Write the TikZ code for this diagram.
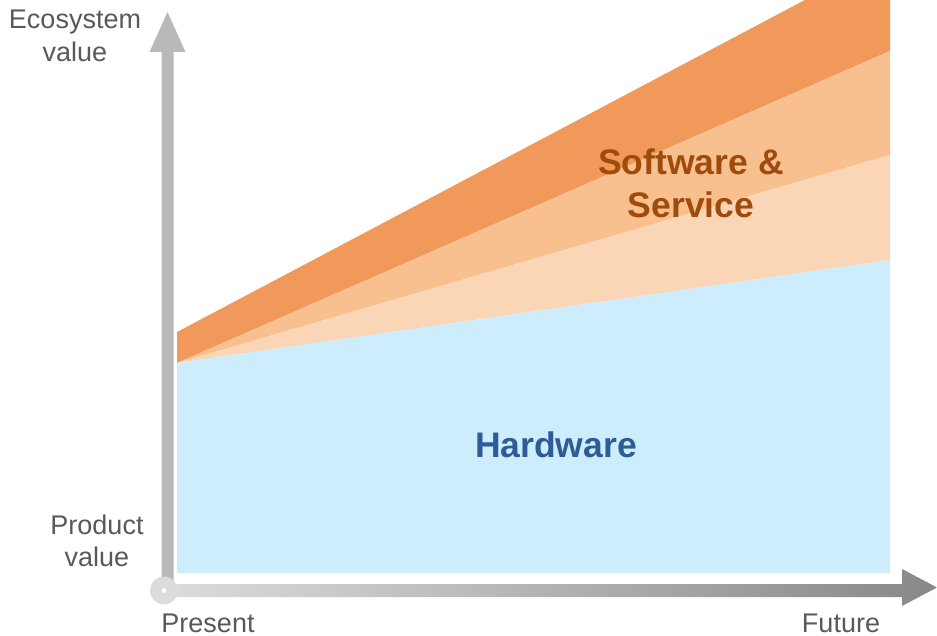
\documentclass[tikz,border=0pt]{standalone}
\usepackage{fontspec}
\setmainfont{Liberation Sans}
\usepackage{tikz}
\definecolor{darkor}{HTML}{F0995A}
\definecolor{midor}{HTML}{F8BF8F}
\definecolor{lightor}{HTML}{FBD6B6}
\definecolor{hwblue}{HTML}{CDECFC}
\definecolor{swtext}{HTML}{9E4B0C}
\definecolor{hwtext}{HTML}{2F5B96}
\definecolor{labgray}{HTML}{595959}
\definecolor{axisv}{HTML}{B9B9B9}
\definecolor{axisl}{HTML}{DCDCDC}
\definecolor{axisr}{HTML}{888888}
\tikzstyle{axislabel}=[text=labgray,align=center,inner sep=0pt,
font=\fontsize{27}{32.5}\selectfont]
\tikzstyle{swlabel}=[text=swtext,align=center,inner sep=0pt,
font=\fontsize{35.5}{43}\selectfont\bfseries]
\tikzstyle{hwlabel}=[text=hwtext,inner sep=0pt,
font=\fontsize{35.5}{43}\selectfont\bfseries]
\usetikzlibrary{shapes}

\begin{document}
\begin{tikzpicture}[x=1pt,y=-1pt]
            \useasboundingbox (0,0) rectangle (937,636);

            % LAYERS PART

            \coordinate (b0) at (177,573);
            \coordinate (b1) at (890,573);
            \coordinate (hw0) at (177,363);
            \coordinate (hw1) at (890,260);
            \coordinate (lt1) at (890,155);
            \coordinate (md1) at (890,51);
            \coordinate (dk0) at (177,332);
            \coordinate (dk1) at (890,-45);

            \begin{scope}
            \clip (0,0) rectangle (937,636);
            \fill[darkor] (hw0) -- (dk0) -- (dk1) -- (md1) -- cycle;
            \fill[midor] (hw0) -- (md1) -- (lt1) -- cycle;
            \fill[lightor] (hw0) -- (lt1) -- (hw1) -- cycle;
            \fill[hwblue] (b0) -- (hw0) -- (hw1) -- (b1) -- cycle;
            \end{scope}

            % AXES PART

            \coordinate (origin) at (164,590.5);
            \coordinate (ytip) at (167.5,12);
            \coordinate (xtip) at (937,587.5);

            \fill[axisv] (161.5,590) -- (161.5,52) -- (149.5,52) -- (ytip)
                -- (185.5,52) -- (173.5,52) -- (173.5,590) -- cycle;
            \shade[left color=axisl,right color=axisr] (164,584) -- (902,584)
                -- (902,569) -- (xtip) -- (902,606) -- (902,597) -- (164,597) -- cycle;
            \fill[axisl] (origin) circle (14);
            \fill[white] (origin) circle (2.5);

            % TEXT PART

            \node[axislabel] (eco) at (75,36) {Ecosystem\\value};
            \node[axislabel] (prod) at (97,541) {Product\\value};
            \node[axislabel] (present) at (208,623) {Present};
            \node[axislabel] (future) at (841,623) {Future};
            \node[swlabel] (sw) at (691,183) {Software \&\\Service};
            \node[hwlabel] (hw) at (556,445) {Hardware};

\end{tikzpicture}
\end{document}
